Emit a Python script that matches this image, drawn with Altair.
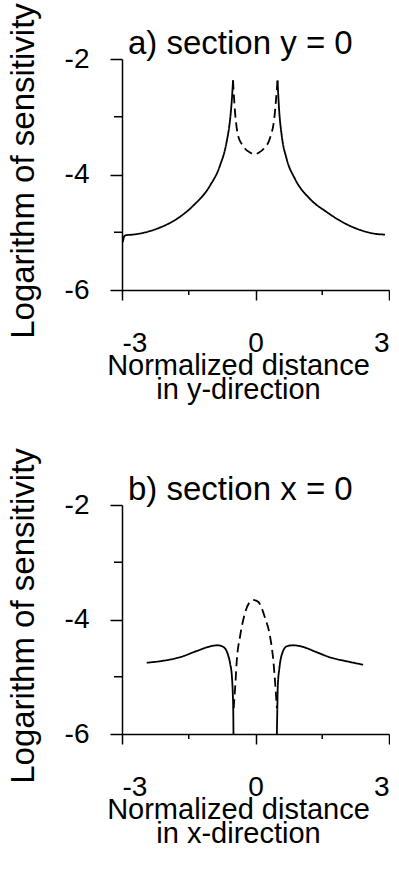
import altair as alt
import pandas as pd

# ---- panel a: section y = 0 ----
a_left_x = [-2.98, -2.95, -2.9, -2.75, -2.52, -2.15, -1.77, -1.40, -1.02, -0.80, -0.65, -0.57, -0.53, -0.505]
a_left_y = [-5.17, -5.07, -5.05, -5.04, -5.01, -4.92, -4.77, -4.54, -4.19, -3.85, -3.44, -3.04, -2.69, -2.37]
a_mid_x = [-0.505, -0.46, -0.39, -0.31, -0.24, -0.12, -0.03, 0.08, 0.19, 0.33, 0.42, 0.495]
a_mid_y = [-2.37, -2.92, -3.33, -3.47, -3.55, -3.62, -3.65, -3.62, -3.55, -3.36, -3.04, -2.37]
a_right_x = [0.495, 0.53, 0.59, 0.70, 0.89, 1.22, 1.60, 1.97, 2.35, 2.72, 2.91]
a_right_y = [-2.37, -2.87, -3.33, -3.73, -4.08, -4.42, -4.65, -4.83, -4.96, -5.03, -5.04]

# ---- panel b: section x = 0 ----
b_left_x = [-2.445, -2.07, -1.70, -1.32, -1.02, -0.86, -0.72, -0.63, -0.57, -0.53, -0.51, -0.50, -0.495]
b_left_y = [-4.755, -4.72, -4.66, -4.55, -4.47, -4.45, -4.48, -4.59, -4.77, -5.0, -5.3, -5.59, -6.0]
b_mid_x = [-0.49, -0.45, -0.42, -0.35, -0.24, -0.12, -0.03, 0.06, 0.21, 0.33, 0.40, 0.45, 0.48]
b_mid_y = [-5.55, -5.1, -4.71, -4.31, -3.90, -3.69, -3.66, -3.69, -3.96, -4.31, -4.71, -5.2, -5.55]
b_right_x = [0.48, 0.49, 0.50, 0.54, 0.61, 0.70, 0.84, 1.07, 1.37, 1.67, 2.05, 2.42]
b_right_y = [-6.0, -5.59, -5.18, -4.83, -4.57, -4.47, -4.45, -4.48, -4.57, -4.66, -4.73, -4.79]

x_major = [-3, 0, 3]
x_minor = [-1.5, 1.5]
y_major = [-6, -4, -2]
y_minor = [-5, -3]

FONT = "Liberation Sans"
W = 267


def segments(parts):
    rows = []
    for seg, (xs, ys, style) in enumerate(parts):
        for i, (x, y) in enumerate(zip(xs, ys)):
            rows.append({"x": x, "y": y, "seg": seg, "style": style, "i": i})
    return pd.DataFrame(rows)


def panel(parts, heading, xtitle, height):
    xs = alt.Scale(domain=[-3, 3], nice=False, zero=False)
    ys = alt.Scale(domain=[-6, -2], nice=False, zero=False)
    df = segments(parts)

    lines = alt.Chart(df).mark_line(color="black", strokeWidth=1.8, interpolate="monotone").encode(
        x=alt.X("x:Q", scale=xs, axis=alt.Axis(
            values=x_major, tickSize=10, labelPadding=29,
            labelExpr="'' + datum.value",
            title=xtitle, titleX=116, titlePadding=-6, titleLineHeight=24, titleFontSize=29)),
        y=alt.Y("y:Q", scale=ys, axis=alt.Axis(
            values=y_major, tickSize=12, labelPadding=21,
            labelExpr="'' + datum.value",
            title="Logarithm of sensitivity", titleX=-82, titleY=height / 2 - 4, titleFontSize=33)),
        detail="seg:N",
        order="i:Q",
        strokeDash=alt.StrokeDash("style:N", legend=None,
                                  scale=alt.Scale(domain=["solid", "dashed"], range=[[1, 0], [9, 5]])),
    )

    ymin = alt.Chart(pd.DataFrame({"v": y_minor})).mark_rule(color="black", strokeWidth=1.5).encode(
        y=alt.Y("v:Q", scale=ys), x=alt.value(-8), x2=alt.value(0))
    xmin = alt.Chart(pd.DataFrame({"v": x_minor})).mark_rule(color="black", strokeWidth=1.5).encode(
        x=alt.X("v:Q", scale=xs), y=alt.value(height), y2=alt.value(height + 5))

    head = alt.Chart(pd.DataFrame({"t": [heading]})).mark_text(
        align="left", baseline="alphabetic", font=FONT, fontSize=33, color="black"
    ).encode(text="t:N", x=alt.value(6), y=alt.value(-5))

    return alt.layer(lines, ymin, xmin, head).properties(width=W, height=height)


pa = panel([(a_left_x, a_left_y, "solid"), (a_mid_x, a_mid_y, "dashed"), (a_right_x, a_right_y, "solid")],
           "a) section y = 0", ["Normalized distance", "in y-direction"], 231)
pb = panel([(b_left_x, b_left_y, "solid"), (b_mid_x, b_mid_y, "dashed"), (b_right_x, b_right_y, "solid")],
           "b) section x = 0", ["Normalized distance", "in x-direction"], 229)

chart = alt.vconcat(pa, pb, spacing=43).properties(
    padding={"left": 6, "top": 2, "right": 0, "bottom": 0},
    background="white",
).configure_view(stroke=None).configure_axis(
    grid=False,
    domainColor="black", domainWidth=1.5,
    tickColor="black", tickWidth=1.5,
    labelFont=FONT, labelFontSize=28, labelColor="black",
    titleFont=FONT, titleFontWeight="normal", titleColor="black",
)

chart.save("out.html", embed_options={"renderer": "svg", "actions": False})
